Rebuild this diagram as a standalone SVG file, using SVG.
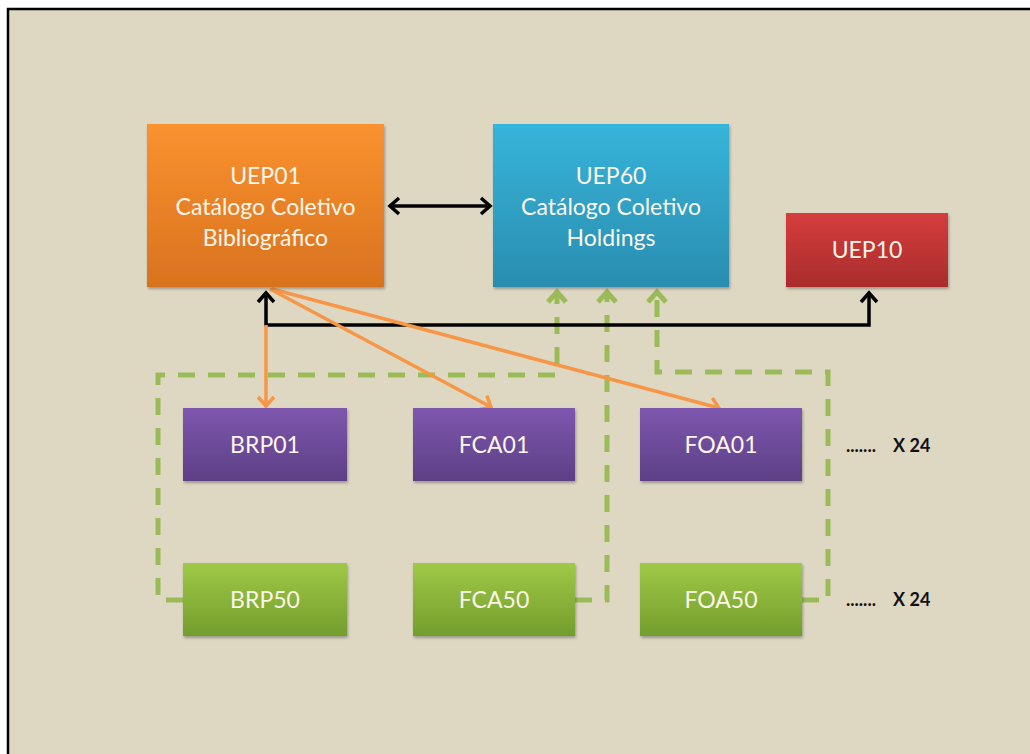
<svg xmlns="http://www.w3.org/2000/svg" width="1030" height="754" viewBox="0 0 1030 754">
  <defs>
    <linearGradient id="gOrange" x1="0" y1="0" x2="0" y2="1"><stop offset="0" stop-color="#FA922F"/><stop offset="1" stop-color="#D8721E"/></linearGradient>
    <linearGradient id="gBlue" x1="0" y1="0" x2="0" y2="1"><stop offset="0" stop-color="#36B4D9"/><stop offset="1" stop-color="#2A8DB0"/></linearGradient>
    <linearGradient id="gRed" x1="0" y1="0" x2="0" y2="1"><stop offset="0" stop-color="#D63D3D"/><stop offset="1" stop-color="#A92C2C"/></linearGradient>
    <linearGradient id="gPurple" x1="0" y1="0" x2="0" y2="1"><stop offset="0" stop-color="#7E57AE"/><stop offset="1" stop-color="#5D3F86"/></linearGradient>
    <linearGradient id="gGreen" x1="0" y1="0" x2="0" y2="1"><stop offset="0" stop-color="#9FC946"/><stop offset="1" stop-color="#739D2D"/></linearGradient>
    <filter id="shadow" x="-10%" y="-10%" width="120%" height="130%">
      <feDropShadow dx="1" dy="2" stdDeviation="1.5" flood-color="#000" flood-opacity="0.3"/>
    </filter>
    <marker id="mBlack" markerUnits="userSpaceOnUse" markerWidth="20" markerHeight="20" viewBox="0 0 20 20" refX="14" refY="10" orient="auto-start-reverse">
      <path d="M5,2 L14,10 L5,18" fill="none" stroke="#000" stroke-width="3.5" stroke-linejoin="miter"/>
    </marker>
    <marker id="mOrange" markerUnits="userSpaceOnUse" markerWidth="20" markerHeight="20" viewBox="0 0 20 20" refX="14" refY="10" orient="auto">
      <path d="M5,2 L14,10 L5,18" fill="none" stroke="#F79646" stroke-width="3.5"/>
    </marker>
    <marker id="mGreen" markerUnits="userSpaceOnUse" markerWidth="22" markerHeight="22" viewBox="0 0 22 22" refX="15" refY="11" orient="auto">
      <path d="M5,2 L15,11 L5,20" fill="none" stroke="#9BBB59" stroke-width="5"/>
    </marker>
  </defs>
  <style>
    .lbl { font-family: Lato, "Open Sans", "Liberation Sans", sans-serif; font-size: 23px; fill: #FBF6EA; text-anchor: middle; }
    .mult { font-family: Lato, "Liberation Sans", sans-serif; font-size: 18px; font-weight: bold; fill: #111; }
    .box { filter: url(#shadow); }
    .dash { fill: none; stroke: #9BBB59; stroke-width: 5; stroke-dasharray: 17 13; }
  </style>
  <rect x="0" y="0" width="1030" height="754" fill="#FFFFFF"/>
  <rect x="8" y="9" width="1030" height="760" fill="#DED8C3"/>
  <path d="M8,760 L8,9 L1040,9" fill="none" stroke="#000" stroke-width="2.5"/>

  <g id="connectors">
    <path class="dash" d="M183,600 L158,600 L158,375 L557,375 L557,292" marker-end="url(#mGreen)"/>
    <path class="dash" d="M575,600 L607,600 L607,292" marker-end="url(#mGreen)"/>
    <path class="dash" d="M802,600 L828,600 L828,372 L657,372 L657,292" marker-end="url(#mGreen)"/>
    <path d="M266,293 L266,325 L869,325 L869,293" fill="none" stroke="#000" stroke-width="3.5" marker-start="url(#mBlack)" marker-end="url(#mBlack)"/>
    <line x1="266" y1="325" x2="266" y2="406" stroke="#F79646" stroke-width="3.5" marker-end="url(#mOrange)"/>
    <line x1="270" y1="289" x2="491" y2="407" stroke="#F79646" stroke-width="3.5" marker-end="url(#mOrange)"/>
    <line x1="272" y1="289" x2="719" y2="408" stroke="#F79646" stroke-width="3.5" marker-end="url(#mOrange)"/>
    <line x1="390" y1="206" x2="490" y2="206" stroke="#000" stroke-width="3.5" marker-start="url(#mBlack)" marker-end="url(#mBlack)"/>
  </g>

  <g id="UEP01">
    <rect class="box" x="147" y="124" width="237" height="163" fill="url(#gOrange)"/>
    <text class="lbl" x="265.5" y="184">UEP01</text>
    <text class="lbl" x="265.5" y="215">Catálogo Coletivo</text>
    <text class="lbl" x="265.5" y="246">Bibliográfico</text>
  </g>
  <g id="UEP60">
    <rect class="box" x="493" y="124" width="236" height="163" fill="url(#gBlue)"/>
    <text class="lbl" x="611" y="184">UEP60</text>
    <text class="lbl" x="611" y="215">Catálogo Coletivo</text>
    <text class="lbl" x="611" y="246">Holdings</text>
  </g>
  <g id="UEP10">
    <rect class="box" x="786" y="213" width="162" height="74" fill="url(#gRed)"/>
    <text class="lbl" x="867" y="258">UEP10</text>
  </g>
  <g id="BRP01">
    <rect class="box" x="183" y="408" width="164" height="73" fill="url(#gPurple)"/>
    <text class="lbl" x="265" y="453">BRP01</text>
  </g>
  <g id="FCA01">
    <rect class="box" x="413" y="408" width="162" height="73" fill="url(#gPurple)"/>
    <text class="lbl" x="494" y="453">FCA01</text>
  </g>
  <g id="FOA01">
    <rect class="box" x="640" y="408" width="162" height="73" fill="url(#gPurple)"/>
    <text class="lbl" x="721" y="453">FOA01</text>
  </g>
  <g id="BRP50">
    <rect class="box" x="183" y="563" width="164" height="73" fill="url(#gGreen)"/>
    <text class="lbl" x="265" y="608">BRP50</text>
  </g>
  <g id="FCA50">
    <rect class="box" x="413" y="563" width="162" height="73" fill="url(#gGreen)"/>
    <text class="lbl" x="494" y="608">FCA50</text>
  </g>
  <g id="FOA50">
    <rect class="box" x="640" y="563" width="162" height="73" fill="url(#gGreen)"/>
    <text class="lbl" x="721" y="608">FOA50</text>
  </g>
  <g id="mult1"><text class="mult" x="846" y="452">.......<tspan x="893">X 24</tspan></text></g>
  <g id="mult2"><text class="mult" x="846" y="606">.......<tspan x="893">X 24</tspan></text></g>
</svg>
